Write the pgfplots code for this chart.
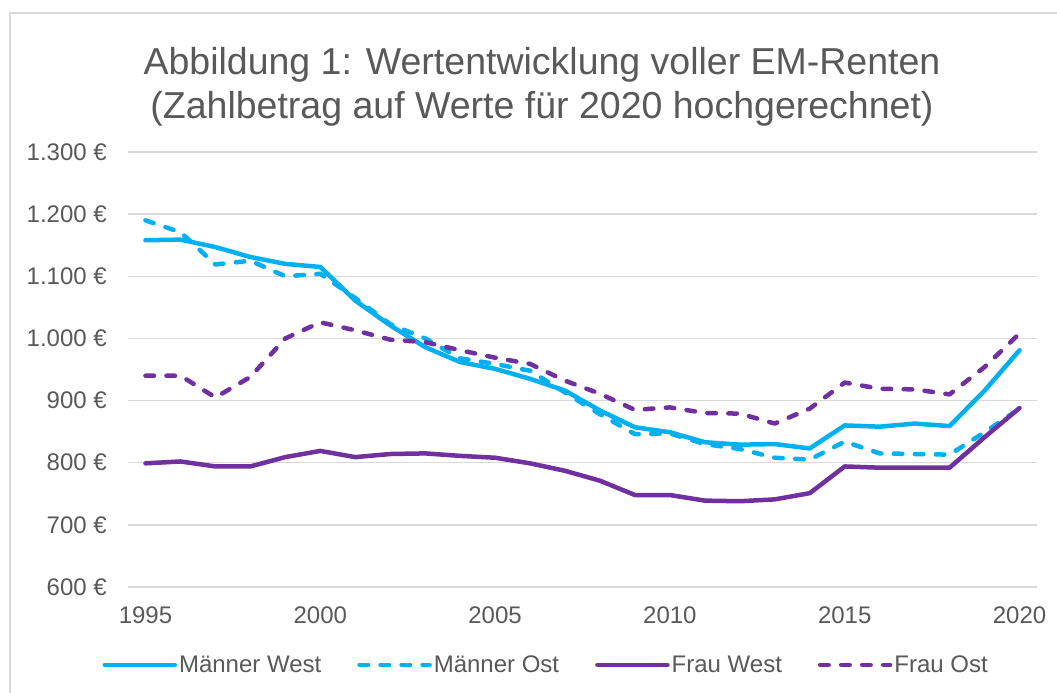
\documentclass[border=0pt]{standalone}
\usepackage{fontspec}
\setmainfont{Liberation Sans}
\usepackage{pgfplots}
\usepackage{pgfplotstable}
\pgfplotsset{compat=1.18}
\definecolor{mcyan}{HTML}{00B0F0}
\definecolor{mpurple}{HTML}{7030A0}
\definecolor{gridgray}{HTML}{D9D9D9}
\definecolor{txtgray}{HTML}{595959}

% Zahlbetrag, hochgerechnet auf 2020 (Euro)
\pgfplotstableread{
year mw   mo   fw  fo
1995 1158 1190 799 940
1996 1159 1171 802 940
1997 1147 1119 794 905
1998 1131 1125 794 938
1999 1120 1100 809 1000
2000 1115 1104 819 1026
2001 1061 1065 809 1013
2002 1021 1023 814 998
2003 986  1000 815 994
2004 962  968  811 981
2005 951  959  808 969
2006 935  948  799 959
2007 916  913  787 932
2008 884  878  771 911
2009 857  846  748 885
2010 849  847  748 889
2011 833  830  739 880
2012 829  822  738 879
2013 830  808  741 863
2014 823  805  751 887
2015 860  834  794 929
2016 858  815  792 919
2017 863  814  792 918
2018 859  813  792 910
2019 916  849  841 954
2020 981  887  888 1008
}\rentendata

\begin{document}
\begin{tikzpicture}[x=1pt,y=1pt]
\useasboundingbox (0,0) rectangle (1057,693);
\fill[white] (0,0) rectangle (1057,693);
% chart frame (left and top edge visible)
\draw[gridgray, line width=1.5pt] (10,0) -- (10,680) -- (1057,680);

\node[anchor=base, text=txtgray, font=\fontsize{37.5}{44}\selectfont] at (542,618)
  {Abbildung 1: Wertentwicklung voller EM-Renten};
\node[anchor=base, text=txtgray, font=\fontsize{37.5}{44}\selectfont] at (542,574)
  {(Zahlbetrag auf Werte für 2020 hochgerechnet)};

\begin{axis}[
    at={(128pt,106pt)}, anchor=south west,
    scale only axis, width=909pt, height=435pt,
    xmin=1994.5, xmax=2020.5,
    ymin=600, ymax=1300,
    axis line style={draw=none},
    major tick length=0pt,
    ymajorgrids,
    grid style={gridgray, line width=1.5pt},
    xtick={1995,2000,2005,2010,2015,2020},
    xticklabels={1995,2000,2005,2010,2015,2020},
    ytick={600,700,...,1300},
    yticklabels={600 €,700 €,800 €,900 €,1.000 €,1.100 €,1.200 €,1.300 €},
    tick label style={text=txtgray, font=\fontsize{24}{28}\selectfont, inner sep=0pt},
    yticklabel style={anchor=east, xshift=-21pt},
    xticklabel style={anchor=north, yshift=-20pt},
    legend columns=4,
    legend style={at={(0.46,-0.179)}, anchor=center, draw=none, fill=none,
      font=\fontsize{24}{28}\selectfont, text=txtgray,
      nodes={inner sep=2pt},
      /tikz/every even column/.append style={column sep=34pt}},
    legend image code/.code={\draw[#1] (0pt,0pt) -- (70pt,0pt);},
    every axis plot/.append style={line width=4.5pt, line join=round},
]
\addplot[mcyan, line cap=round] table[x=year, y=mw] {\rentendata};
\addlegendentry{Männer West}
\addplot[mcyan, line cap=round, dash pattern=on 8.5pt off 12.5pt] table[x=year, y=mo] {\rentendata};
\addlegendentry{Männer Ost}
\addplot[mpurple, line cap=round] table[x=year, y=fw] {\rentendata};
\addlegendentry{Frau West}
\addplot[mpurple, line cap=round, dash pattern=on 8.5pt off 12.5pt] table[x=year, y=fo] {\rentendata};
\addlegendentry{Frau Ost}
\end{axis}
\end{tikzpicture}
\end{document}
